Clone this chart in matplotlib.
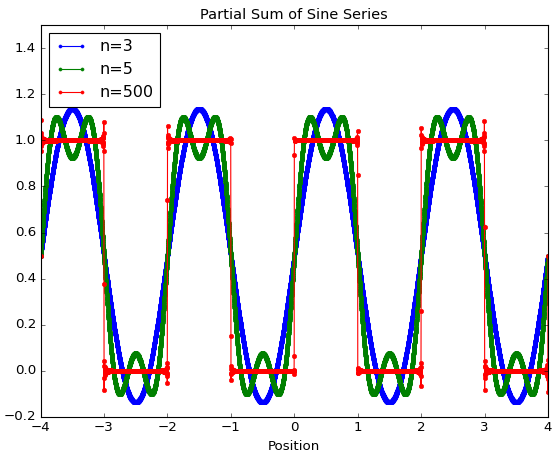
import numpy as np
import matplotlib
matplotlib.use("Agg")
import matplotlib.pyplot as plt

plt.style.use("classic")

# Chart parameters (series labels = number of terms bound of the partial sum)
labels = ["n=3", "n=5", "n=500"]
n_values = [3, 5, 500]
colors = ["b", "g", "r"]
x_range = [-4, 4]
n_samples = 4000
y_limits = [-0.2, 1.5]
x_ticks = [-4, -3, -2, -1, 0, 1, 2, 3, 4]
y_ticks = [-0.2, 0.0, 0.2, 0.4, 0.6, 0.8, 1.0, 1.2, 1.4]
title = "Partial Sum of Sine Series"
xlabel = "Position"

x = np.linspace(x_range[0], x_range[1], n_samples)


def partial_sum(xv, n):
    s = np.full_like(xv, 0.5)
    for k in range(1, n, 2):
        s += (2.0 / np.pi) * np.sin(k * np.pi * xv) / k
    return s


fig = plt.figure(figsize=(552 / 80, 455 / 80), dpi=80)
ax = fig.add_axes([40.5 / 552, 1 - 417 / 455, (548 - 40.5) / 552, (417 - 25) / 455])

for lab, n, c in zip(labels, n_values, colors):
    ax.plot(x, partial_sum(x, n), ".-", color=c, label=lab, markersize=8, linewidth=1)

ax.set_xlim(*x_range)
ax.set_ylim(*y_limits)
ax.set_xticks(x_ticks)
ax.set_yticks(y_ticks)
ax.set_title(title, fontsize=13)
ax.set_xlabel(xlabel, fontsize=12)
ax.tick_params(labelsize=12)
leg = ax.legend(loc="upper left", fontsize=14.4, markerscale=0.7)

fig.savefig("out.png", dpi=80)
